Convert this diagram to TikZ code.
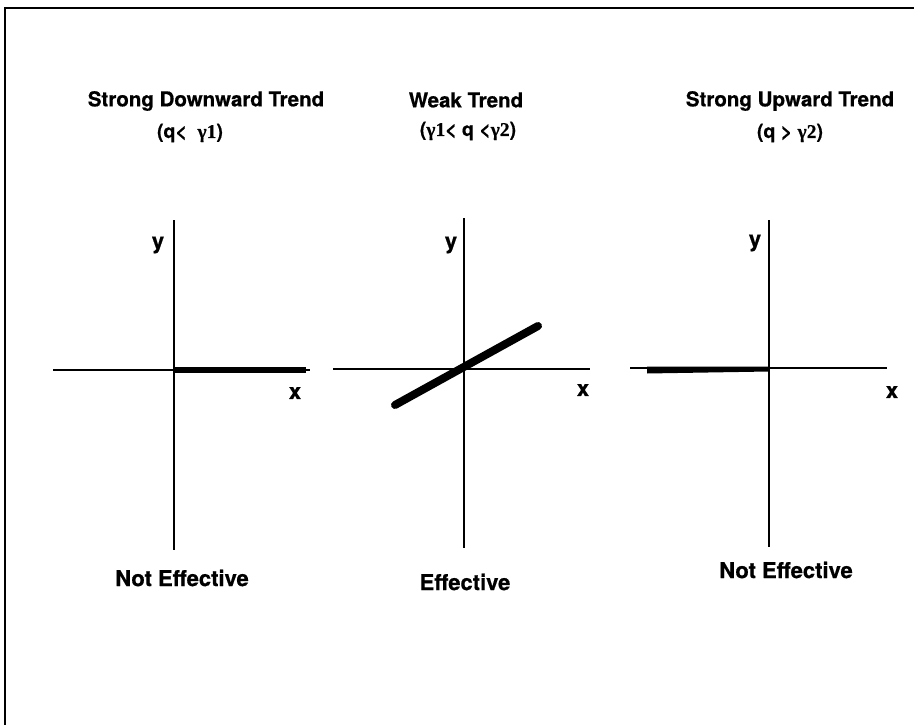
\documentclass[tikz,border=0pt]{standalone}
\usepackage{fontspec}
\setmainfont{TeX Gyre Heros}[BoldFeatures={FakeBold=0.6}]
\newfontfamily\gfont{Liberation Serif}[FakeBold=0.4]
\begin{document}
\begin{tikzpicture}[x=1pt,y=-1pt,
  axisline/.style={line width=1.5pt, black},
  trendline/.style={line width=6pt, black},
  frameline/.style={line width=1.8pt, black},
  lbl/.style={inner sep=0pt, font=\fontsize{20.5}{24}\selectfont\bfseries},
  biglbl/.style={inner sep=0pt, font=\fontsize{22}{26}\selectfont\bfseries},
  sublbl/.style={inner sep=0pt, font=\fontsize{19.5}{23}\selectfont\bfseries}]
\useasboundingbox (0,0) rectangle (914,725);
\fill[white] (0,0) rectangle (914,725);
% frame
\coordinate (fbl) at (5,725);
\coordinate (ftl) at (5,8);
\coordinate (ftr) at (914,8);
\draw[frameline] (fbl) -- (ftl) -- (ftr);
% titles
\node[lbl] (t1) at (206,101) {Strong Downward Trend};
\node[sublbl] (s1) at (190,133) {(q<\hspace{0.55em}{\gfont γ1})};
\node[lbl] (t2) at (466,100) {Weak Trend};
\node[sublbl] (s2) at (468,131) {({\gfont γ1}< q <{\gfont γ2})};
\node[lbl] (t3) at (790,101) {Strong Upward Trend};
\node[sublbl] (s3) at (790,133) {(q > {\gfont γ2})};
% panel 1
\coordinate (v1t) at (174,220); \coordinate (v1b) at (174,550);
\coordinate (h1l) at (53,370); \coordinate (h1r) at (310,370);
\coordinate (o1) at (174,370); \coordinate (e1) at (306,370);
\draw[axisline] (v1t) -- (v1b);
\draw[axisline] (h1l) -- (h1r);
\draw[trendline] (o1) -- (e1);
\node[biglbl] (y1) at (158,245) {y};
\node[biglbl] (x1) at (295,393) {x};
\node[biglbl] (b1) at (182,578) {Not Effective};
% panel 2
\coordinate (v2t) at (464,218); \coordinate (v2b) at (464,548);
\coordinate (h2l) at (333,369); \coordinate (h2r) at (590,369);
\coordinate (a2) at (395,405); \coordinate (c2) at (538,326);
\draw[axisline] (v2t) -- (v2b);
\draw[axisline] (h2l) -- (h2r);
\draw[trendline, line width=8pt, line cap=round] (a2) -- (c2);
\node[biglbl] (y2) at (451,245) {y};
\node[biglbl] (x2) at (583,390) {x};
\node[biglbl] (b2) at (465,582) {Effective};
% panel 3
\coordinate (v3t) at (769,220); \coordinate (v3b) at (769,547);
\coordinate (h3l) at (630,368); \coordinate (h3r) at (887,368);
\draw[axisline] (v3t) -- (v3b);
\draw[axisline] (h3l) -- (h3r);
\fill[black] (647,366.5) -- (769,366.5) -- (769,371.5) -- (647,373.5) -- cycle;
\node[biglbl] (y3) at (755,243) {y};
\node[biglbl] (x3) at (892,392) {x};
\node[biglbl] (b3) at (786,570) {Not Effective};
\end{tikzpicture}
\end{document}
